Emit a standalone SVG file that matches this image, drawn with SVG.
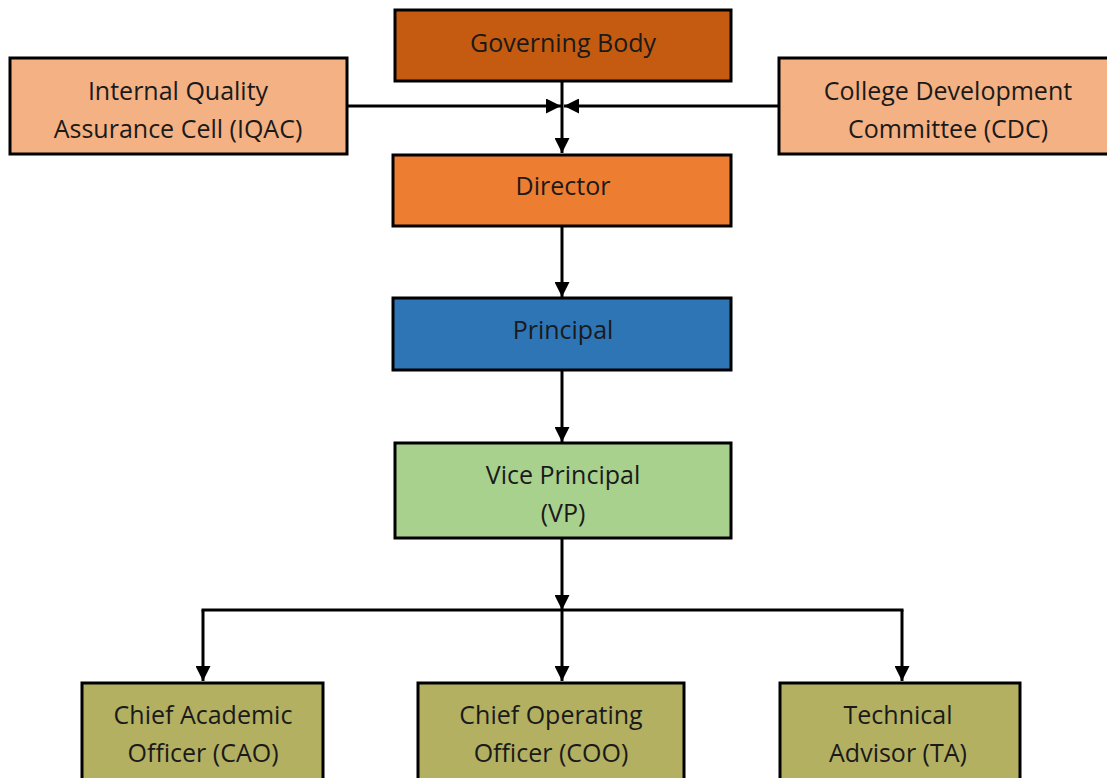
<svg xmlns="http://www.w3.org/2000/svg" width="1107" height="778" viewBox="0 0 1107 778">
<style>
.box{stroke:#000;stroke-width:3}
.t{font-family:"Open Sans","Noto Sans",sans-serif;font-size:25px;fill:#1a1a1a;text-anchor:middle}
.c{stroke:#000;stroke-width:3;fill:none}
</style>
<defs>
<marker id="ah" markerUnits="userSpaceOnUse" markerWidth="15" markerHeight="15" refX="15" refY="7.5" orient="auto" viewBox="0 0 15 15">
<path d="M0,0 L15,7.5 L0,15 z" fill="#000"/>
</marker>
</defs>
<rect width="1107" height="778" fill="#fff"/>
<g id="connectors">
<line class="c" x1="562" y1="82" x2="562" y2="153" marker-end="url(#ah)"/>
<line class="c" x1="348" y1="106" x2="561" y2="106" marker-end="url(#ah)"/>
<line class="c" x1="779" y1="106" x2="564" y2="106" marker-end="url(#ah)"/>
<line class="c" x1="562" y1="227" x2="562" y2="297" marker-end="url(#ah)"/>
<line class="c" x1="562" y1="371" x2="562" y2="442" marker-end="url(#ah)"/>
<line class="c" x1="562" y1="538" x2="562" y2="610" marker-end="url(#ah)"/>
<line class="c" x1="201.5" y1="610" x2="903.5" y2="610"/>
<line class="c" x1="203" y1="610" x2="203" y2="681" marker-end="url(#ah)"/>
<line class="c" x1="562" y1="610" x2="562" y2="681" marker-end="url(#ah)"/>
<line class="c" x1="902" y1="610" x2="902" y2="681" marker-end="url(#ah)"/>
</g>
<g id="governing-body">
<rect class="box" x="395" y="10" width="336" height="71" fill="#C55A11"/>
<text class="t" x="563" y="52">Governing Body</text>
</g>
<g id="iqac">
<rect class="box" x="10" y="58" width="337" height="96" fill="#F4B183"/>
<text class="t" x="178" y="100">Internal Quality</text>
<text class="t" x="178" y="138">Assurance Cell (IQAC)</text>
</g>
<g id="cdc">
<rect class="box" x="779" y="58" width="340" height="96" fill="#F4B183"/>
<text class="t" x="948" y="100">College Development</text>
<text class="t" x="948" y="138">Committee (CDC)</text>
</g>
<g id="director">
<rect class="box" x="393" y="155" width="338" height="71" fill="#ED7D31"/>
<text class="t" x="563" y="195">Director</text>
</g>
<g id="principal">
<rect class="box" x="393" y="298" width="338" height="72" fill="#2E75B6"/>
<text class="t" x="563" y="339">Principal</text>
</g>
<g id="vice-principal">
<rect class="box" x="395" y="443" width="336" height="95" fill="#A9D18E"/>
<text class="t" x="563" y="484">Vice Principal</text>
<text class="t" x="563" y="522">(VP)</text>
</g>
<g id="cao">
<rect class="box" x="82" y="683" width="241" height="100" fill="#B3B062"/>
<text class="t" x="203" y="724">Chief Academic</text>
<text class="t" x="203" y="762">Officer (CAO)</text>
</g>
<g id="coo">
<rect class="box" x="418" y="683" width="266" height="100" fill="#B3B062"/>
<text class="t" x="551" y="724">Chief Operating</text>
<text class="t" x="551" y="762">Officer (COO)</text>
</g>
<g id="ta">
<rect class="box" x="780" y="683" width="240" height="100" fill="#B3B062"/>
<text class="t" x="898" y="724">Technical</text>
<text class="t" x="898" y="762">Advisor (TA)</text>
</g>
</svg>
